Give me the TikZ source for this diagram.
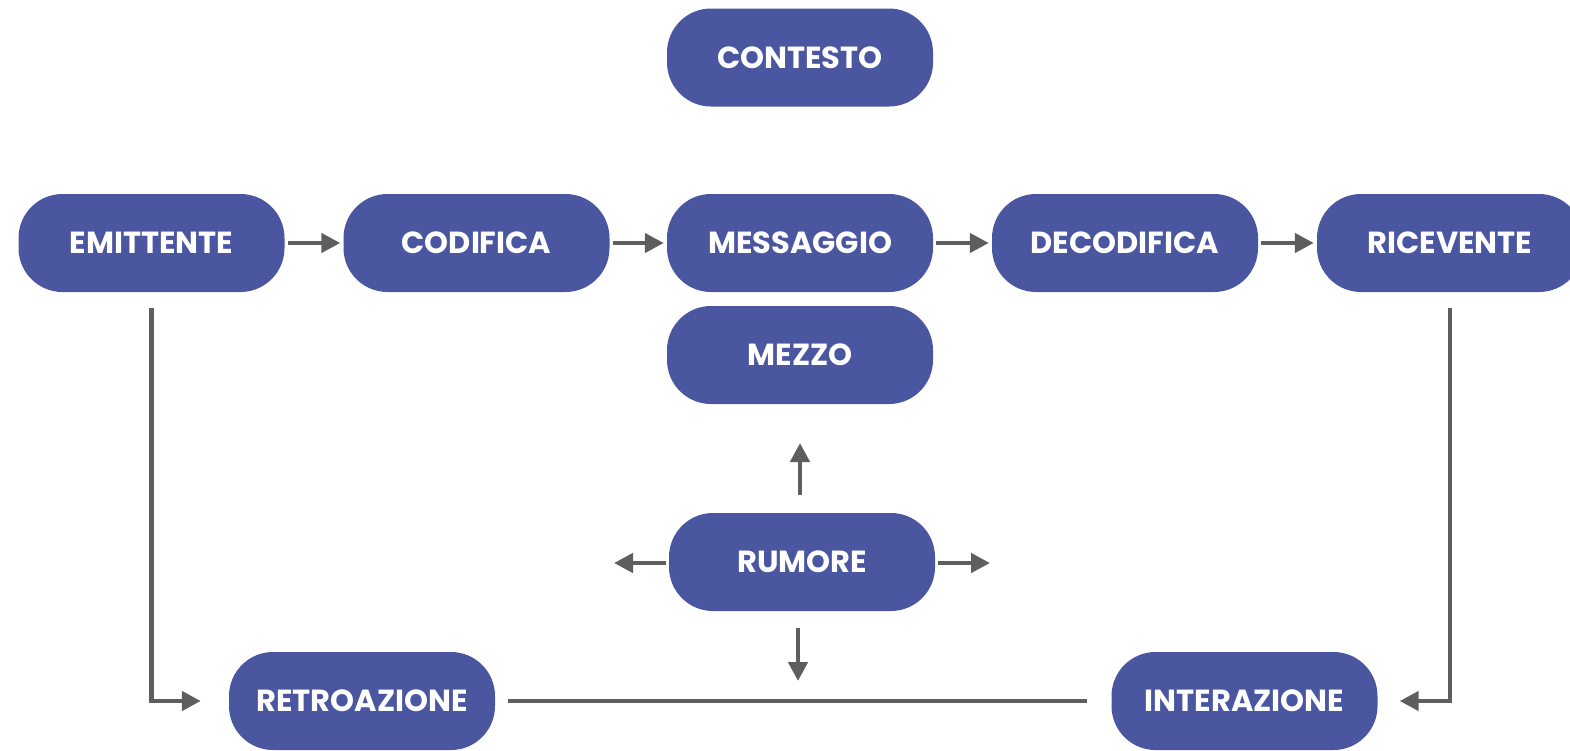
\documentclass[tikz,border=0pt]{standalone}
\usepackage{fontspec}
\setmainfont{Poppins}
\usetikzlibrary{arrows.meta}
\definecolor{boxblue}{HTML}{4A56A0}
\definecolor{arrgray}{HTML}{5E5E5E}
\tikzset{
  box/.style={fill=boxblue, draw=none, rounded corners=44pt, minimum width=266pt, minimum height=98pt,
    text=white, font=\fontsize{30.5}{36}\selectfont\bfseries, inner sep=0pt},
  arr/.style={draw=arrgray, line width=4.5pt, -{Triangle[length=19pt,width=19pt]}},
  plainline/.style={draw=arrgray, line width=4.5pt},
}
\begin{document}
\begin{tikzpicture}[x=1pt,y=-1pt]
\useasboundingbox (0,0) rectangle (1570,750);
\node[box] (cont) at (800,57.5) {CONTESTO};
\node[box] (emit) at (151.5,243) {EMITTENTE};
\node[box] (cod) at (476.5,243) {CODIFICA};
\node[box] (mess) at (800,243) {MESSAGGIO};
\node[box] (dec) at (1125,243) {DECODIFICA};
\node[box] (ric) at (1450,243) {RICEVENTE};
\node[box] (mez) at (800,355) {MEZZO};
\node[box] (rum) at (802,562) {RUMORE};
\node[box] (retro) at (362,701) {RETROAZIONE};
\node[box] (inter) at (1244.5,701) {INTERAZIONE};
\coordinate (upE) at (800,443);
\coordinate (downE) at (798,681);
\coordinate (leftE) at (614,563);
\coordinate (rightE) at (990,563);
\draw[arr, shorten <=3pt, shorten >=3pt] (emit) -- (cod);
\draw[arr, shorten <=3pt, shorten >=3pt] (cod) -- (mess);
\draw[arr, shorten <=3pt, shorten >=3pt] (mess) -- (dec);
\draw[arr, shorten <=3pt, shorten >=3pt] (dec) -- (ric);
\draw[arr, shorten <=18pt] (rum.north -| upE) -- (upE);
\draw[arr, shorten <=17pt] (rum.south -| downE) -- (downE);
\draw[arr, shorten <=3pt] (rum.west |- leftE) -- (leftE);
\draw[arr, shorten <=3pt] (rum.east |- rightE) -- (rightE);
\draw[arr] ([yshift=-16pt]emit.south) |- ([xshift=-28pt]retro.west);
\draw[arr] ([yshift=-16pt]ric.south) |- ([xshift=22pt]inter.east);
\draw[plainline] ([xshift=13pt]retro.east) -- ([xshift=-24pt]inter.west);
\end{tikzpicture}
\end{document}
